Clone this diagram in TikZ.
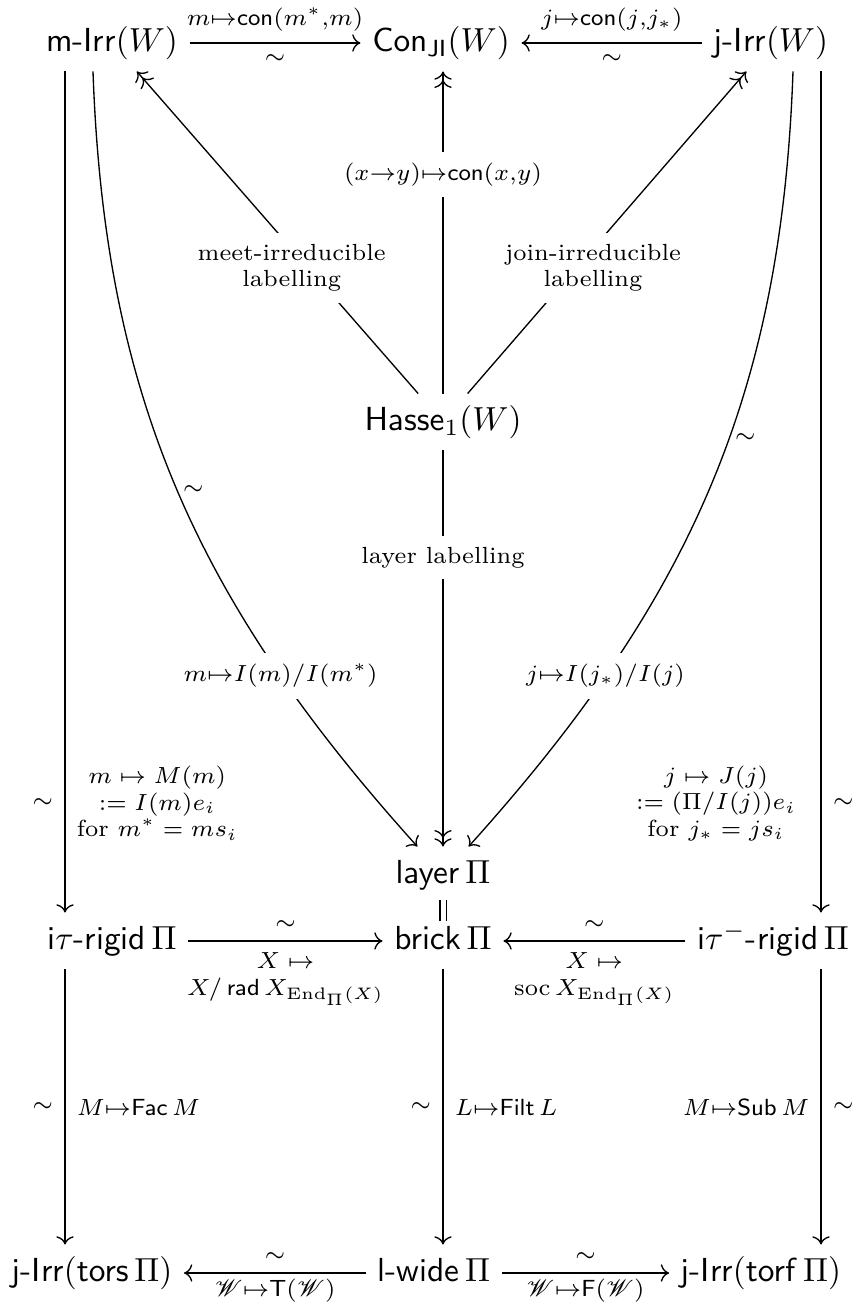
\documentclass[tikz,border=0pt]{standalone}
\usepackage{amsmath}
\usepackage{amssymb}
\usepackage{mathrsfs}
\usetikzlibrary{arrows.meta}

\begin{document}
\begin{tikzpicture}[x=30pt,y=30pt,>={Computer Modern Rightarrow},
  obj/.style={text height=7.5pt,text depth=2.5pt},
  lbl/.style={font=\scriptsize},
  desc/.style={font=\scriptsize,fill=white,align=center}]
\useasboundingbox (0,0) rectangle (8.52,13.05);
% where the vertical arrows run
\coordinate (colL) at (0.65,0);
\coordinate (colR) at (8.21,0);
\coordinate (curveL) at (0.93,0);
\coordinate (curveR) at (7.93,0);
% objects
\node[obj] (mirr) at (1.12,12.62) {\textsf{m-Irr}$(W)$};
\node[obj] (con) at (4.41,12.62) {$\mathsf{Con}_{\mathsf{JI}}(W)$};
\node[obj] (jirr) at (7.71,12.62) {\textsf{j-Irr}$(W)$};
\node[obj] (hasse) at (4.43,8.83) {$\mathsf{Hasse}_1(W)$};
\node[obj] (layer) at (4.43,4.30) {$\mathsf{layer}\,\Pi$};
\node[obj] (brick) at (4.43,3.64) {$\mathsf{brick}\,\Pi$};
\node[obj] (itau) at (1.12,3.64) {\textsf{i}$\tau$\textsf{-rigid}\,$\Pi$};
\node[obj] (itaum) at (7.73,3.64) {\textsf{i}$\tau^-$\textsf{-rigid}\,$\Pi$};
\node[obj] (jtors) at (0.92,0.32) {\textsf{j-Irr}$(\mathsf{tors}\,\Pi)$};
\node[obj] (lwide) at (4.34,0.32) {\textsf{l-wide}\,$\Pi$};
\node[obj] (jtorf) at (7.61,0.32) {\textsf{j-Irr}$(\mathsf{torf}\,\Pi)$};
% top row
\draw[->] (mirr) -- (con) node[midway,above,lbl]{$m{\mapsto}\mathsf{con}(m^*{,}m)$} node[midway,below,lbl]{$\sim$};
\draw[->] (jirr) -- (con) node[midway,above,lbl]{$j{\mapsto}\mathsf{con}(j{,}j_*)$} node[midway,below,lbl]{$\sim$};
% out of the Hasse diagram
\draw[->>] (hasse) -- (mirr) node[pos=0.39,desc,xshift=-5pt]{meet-irreducible\\labelling};
\draw[->>] (hasse) -- (hasse |- con.south) node[pos=0.68,desc]{$(x{\to}y){\mapsto}\mathsf{con}(x{,}y)$};
\draw[->>] (hasse) -- (jirr) node[pos=0.39,desc,xshift=5pt]{join-irreducible\\labelling};
\draw[->>] (hasse) -- (layer) node[pos=0.27,desc]{layer labelling};
% the two long bends
\draw[->] (mirr.south -| curveL) to[out=-88,in=132] node[pos=0.5,right,lbl,inner sep=1.5pt]{$\sim$} node[pos=0.76,desc]{$m{\mapsto}I(m)/I(m^*)$} (layer);
\draw[->] (jirr.south -| curveR) to[out=-92,in=48] node[pos=0.43,right,lbl,inner sep=1.5pt]{$\sim$} node[pos=0.76,desc]{$j{\mapsto}I(j_*)/I(j)$} (layer);
% outer columns, upper half
\draw[->] (mirr.south -| colL) -- (itau.north -| colL) node[pos=0.87,left,lbl]{$\sim$}
  node[pos=0.87,right,lbl,align=center]{$m\mapsto M(m)$\\$:=I(m)e_i$\\for $m^*=ms_i$};
\draw[->] (jirr.south -| colR) -- (itaum.north -| colR) node[pos=0.87,right,lbl]{$\sim$}
  node[pos=0.87,left,lbl,align=center,xshift=-4pt]{$j\mapsto J(j)$\\$:=(\Pi/I(j))e_i$\\for $j_*=js_i$};
\draw[double,double distance=1.5pt] ([yshift=1pt]layer.south) -- ([yshift=-2.5pt]brick.north);
% middle row
\draw[->] (itau) -- (brick) node[midway,above,lbl]{$\sim$}
  node[midway,below,lbl,align=center]{$X\mapsto$\\$X/\,\mathsf{rad}\,X_{\mathrm{End}_\Pi(X)}$};
\draw[->] (itaum) -- (brick) node[midway,above,lbl]{$\sim$}
  node[midway,below,lbl,align=center]{$X\mapsto$\\$\mathrm{soc}\,X_{\mathrm{End}_\Pi(X)}$};
% lower half
\draw[->] (itau.south -| colL) -- (jtors.north -| colL) node[midway,left,lbl]{$\sim$} node[midway,right,lbl]{$M{\mapsto}\mathsf{Fac}\,M$};
\draw[->] (brick) -- (brick |- lwide.north) node[midway,left,lbl]{$\sim$} node[midway,right,lbl]{$L{\mapsto}\mathsf{Filt}\,L$};
\draw[->] (itaum.south -| colR) -- (jtorf.north -| colR) node[midway,left,lbl]{$M{\mapsto}\mathsf{Sub}\,M$} node[midway,right,lbl]{$\sim$};
% bottom row
\draw[->] (lwide) -- (jtors) node[midway,above,lbl]{$\sim$} node[midway,below,lbl,inner sep=1.5pt]{$\mathscr{W}{\mapsto}\mathsf{T}(\mathscr{W})$};
\draw[->] (lwide) -- (jtorf) node[midway,above,lbl]{$\sim$} node[midway,below,lbl,inner sep=1.5pt]{$\mathscr{W}{\mapsto}\mathsf{F}(\mathscr{W})$};
\end{tikzpicture}
\end{document}
